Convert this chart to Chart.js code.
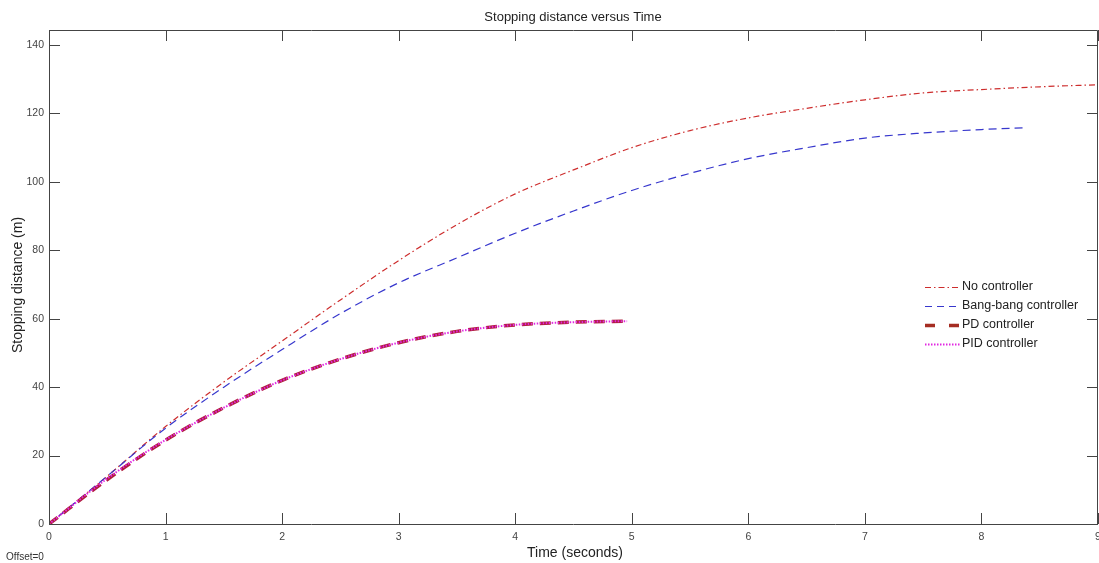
<!DOCTYPE html>
<html>
<head>
<meta charset="utf-8">
<script src="https://cdn.jsdelivr.net/npm/chart.js@4/dist/chart.umd.min.js"></script>
<style>
  html, body { margin: 0; padding: 0; background: #fff; }
  #wrap { width: 1099px; height: 563px; }
</style>
</head>
<body>
<div id="wrap"><canvas id="myChart" width="1099" height="563"></canvas></div>
<script>
// values
const timeNo   = [0, 0.5, 1, 1.5, 2, 2.5, 3, 3.5, 4, 4.5, 5, 5.5, 6, 6.5, 7, 7.5, 8, 8.5, 9];
const distNo   = [0, 14, 28.5, 41.5, 53.5, 65.5, 77, 87.5, 96.5, 103.5, 110, 115, 118.7, 121.5, 124, 126, 127, 127.8, 128.4];
const timeBang = [0, 0.5, 1, 1.5, 2, 2.5, 3, 3.5, 4, 4.5, 5, 5.5, 6, 6.5, 7, 7.5, 8, 8.36];
const distBang = [0, 14, 28, 40, 51, 61.5, 70.5, 77.8, 85, 91.5, 97.5, 102.5, 106.8, 110, 112.8, 114.3, 115.3, 115.8];
const timePD   = [0, 0.5, 1, 1.5, 2, 2.5, 3, 3.5, 4, 4.5, 4.96];
const distPD   = [0, 13, 24.5, 34, 42, 48.2, 53, 56.3, 58.2, 59, 59.3];
const distPID  = [0, 13.3, 24.6, 34, 42, 48.2, 53, 56.3, 58.2, 59, 59.3];
const xTicks = [0, 1, 2, 3, 4, 5, 6, 7, 8, 9];
const yTicks = [0, 20, 40, 60, 80, 100, 120, 140];

function pts(ts, vs) {
	let out = [];
	for (let i = 0; i < ts.length; i++) {
		out.push({x: ts[i], y: vs[i]});
	}
	return out;
}

const legendItems = [
	{label: 'No controller', color: 'rgb(205,45,45)', width: 1.2, dash: [6, 3, 1.5, 3]},
	{label: 'Bang-bang controller', color: 'rgb(55,55,205)', width: 1.2, dash: [7, 5]},
	{label: 'PD controller', color: 'rgb(165,45,35)', width: 3.5, dash: [10, 14]},
	{label: 'PID controller', color: 'rgb(225,40,225)', width: 2, dash: [1.5, 1.5]}
];

const FONT = '"Liberation Sans", Arial, sans-serif';

const decorPlugin = {
	id: 'decor',
	afterDraw(chart) {
		const ctx = chart.ctx;
		const a = chart.chartArea;
		const xs = chart.scales.x;
		const ys = chart.scales.y;
		ctx.save();
		// axes box
		ctx.strokeStyle = '#444';
		ctx.lineWidth = 1;
		ctx.setLineDash([]);
		ctx.beginPath();
		ctx.moveTo(a.left + 0.5, a.bottom + 0.5);
		ctx.lineTo(a.left + 0.5, a.top + 0.5);
		ctx.lineTo(a.right - 0.5, a.top + 0.5);
		ctx.lineTo(a.right - 0.5, a.bottom + 0.5);
		ctx.lineTo(a.left + 0.5, a.bottom + 0.5);
		ctx.stroke();
		// inward ticks
		ctx.beginPath();
		xTicks.forEach(v => {
			const px = Math.round(xs.getPixelForValue(v)) + 0.5;
			ctx.moveTo(px, a.bottom);
			ctx.lineTo(px, a.bottom - 11);
			ctx.moveTo(px, a.top);
			ctx.lineTo(px, a.top + 11);
		});
		yTicks.forEach(v => {
			const py = Math.round(ys.getPixelForValue(v)) + 0.5;
			ctx.moveTo(a.left, py);
			ctx.lineTo(a.left + 11, py);
			ctx.moveTo(a.right, py);
			ctx.lineTo(a.right - 11, py);
		});
		ctx.stroke();

		// texts
		ctx.fillStyle = '#222';
		ctx.textAlign = 'center';
		ctx.textBaseline = 'middle';
		ctx.font = '13px ' + FONT;
		ctx.fillText('Stopping distance versus Time', 573, 17);
		ctx.font = '14px ' + FONT;
		ctx.fillText('Time (seconds)', 575, 553);
		ctx.save();
		ctx.translate(18, 285);
		ctx.rotate(-Math.PI / 2);
		ctx.fillText('Stopping distance (m)', 0, 0);
		ctx.restore();
		ctx.textAlign = 'left';
		ctx.font = '10px ' + FONT;
		ctx.fillStyle = '#333';
		ctx.fillText('Offset=0', 6, 557);

		// legend
		ctx.font = '12.5px ' + FONT;
		legendItems.forEach((it, i) => {
			const y = 287 + i * 19;
			ctx.strokeStyle = it.color;
			ctx.lineWidth = it.width;
			ctx.setLineDash(it.dash);
			ctx.beginPath();
			ctx.moveTo(925, y + 0.5);
			ctx.lineTo(960, y + 0.5);
			ctx.stroke();
			ctx.setLineDash([]);
			ctx.fillStyle = '#222';
			ctx.fillText(it.label, 962, y);
		});
		ctx.restore();
	}
};

const data = {
	datasets: [
		{
			label: 'No controller',
			data: pts(timeNo, distNo),
			borderColor: 'rgb(205,45,45)',
			borderWidth: 1.2,
			borderDash: [6, 3, 1.5, 3],
			order: 4
		},
		{
			label: 'Bang-bang controller',
			data: pts(timeBang, distBang),
			borderColor: 'rgb(55,55,205)',
			borderWidth: 1.2,
			borderDash: [8, 5],
			order: 3
		},
		{
			label: 'PD controller',
			data: pts(timePD, distPD),
			borderColor: 'rgb(175,30,60)',
			borderWidth: 3.5,
			borderDash: [11, 7],
			order: 2
		},
		{
			label: 'PID controller',
			data: pts(timePD, distPID),
			borderColor: 'rgb(225,40,225)',
			borderWidth: 2,
			borderDash: [1.5, 1.5],
			order: 1
		}
	]
};

const config = {
	type: 'line',
	data: data,
	options: {
		responsive: false,
		animation: false,
		layout: { padding: { top: 30, right: 1, left: 0, bottom: 0 } },
		elements: {
			point: { radius: 0 },
			line: { cubicInterpolationMode: 'monotone', fill: false }
		},
		plugins: {
			legend: { display: false },
			title: { display: false },
			tooltip: { enabled: false }
		},
		scales: {
			x: {
				type: 'linear',
				min: 0,
				max: 9,
				afterFit: s => { s.height = 39; s.paddingLeft = 0; s.paddingRight = 0; },
				afterBuildTicks: s => { s.ticks = xTicks.map(v => ({value: v})); },
				grid: { display: false, drawTicks: false },
				border: { display: false },
				ticks: { padding: 7, color: '#444', font: { family: FONT, size: 10.5 }, maxRotation: 0 }
			},
			y: {
				type: 'linear',
				min: 0,
				max: 144.4,
				afterFit: s => { s.width = 49; s.paddingTop = 0; s.paddingBottom = 0; },
				afterBuildTicks: s => { s.ticks = yTicks.map(v => ({value: v})); },
				grid: { display: false, drawTicks: false },
				border: { display: false },
				ticks: { padding: 5, color: '#444', font: { family: FONT, size: 10.5 } }
			}
		}
	},
	plugins: [decorPlugin]
};

let ctx = document.getElementById('myChart').getContext('2d');
new Chart(ctx, config);
</script>
</body>
</html>
